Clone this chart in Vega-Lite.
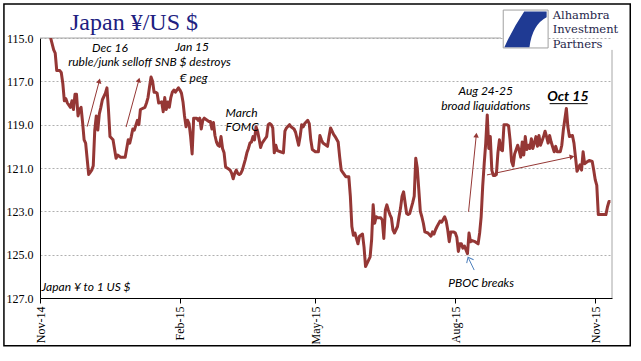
{
  "$schema": "https://vega.github.io/schema/vega-lite/v6.json",
  "width": 572,
  "height": 260,
  "autosize": "none",
  "padding": {"left": 40, "top": 38, "right": 29, "bottom": 63},
  "background": "white",
  "config": {
    "view": {"stroke": null},
    "axis": {"titleFontSize": 0, "domainColor": "black", "labelColor": "black"}
  },
  "datasets": {
    "fx": [
      {"date":"2014-11-08","value":115.0},{"date":"2014-11-10","value":115.55},{"date":"2014-11-11","value":115.7},{"date":"2014-11-12","value":116.5},{"date":"2014-11-14","value":116.5},{"date":"2014-11-15","value":116.6},{"date":"2014-11-16","value":117.1},{"date":"2014-11-17","value":117.9},{"date":"2014-11-18","value":117.8},{"date":"2014-11-19","value":118.0},{"date":"2014-11-21","value":118.2},{"date":"2014-11-22","value":117.9},{"date":"2014-11-23","value":118.3},{"date":"2014-11-24","value":117.6},{"date":"2014-11-25","value":117.6},{"date":"2014-11-26","value":118.6},{"date":"2014-11-27","value":118.3},{"date":"2014-11-28","value":118.2},{"date":"2014-11-29","value":118.9},{"date":"2014-11-30","value":119.7},
      {"date":"2014-12-01","value":119.85},{"date":"2014-12-03","value":121.3},{"date":"2014-12-04","value":121.2},{"date":"2014-12-05","value":121.1},{"date":"2014-12-06","value":120.9},{"date":"2014-12-07","value":119.25},{"date":"2014-12-08","value":118.6},{"date":"2014-12-09","value":119.25},{"date":"2014-12-10","value":118.5},{"date":"2014-12-11","value":118.2},{"date":"2014-12-12","value":117.85},{"date":"2014-12-14","value":117.55},{"date":"2014-12-15","value":117.3},{"date":"2014-12-16","value":118.3},{"date":"2014-12-17","value":119.55},{"date":"2014-12-19","value":119.7},{"date":"2014-12-21","value":120.55},{"date":"2014-12-22","value":120.4},{"date":"2014-12-24","value":120.5},{"date":"2014-12-27","value":120.5},{"date":"2014-12-28","value":120.1},{"date":"2014-12-29","value":119.7},{"date":"2014-12-30","value":119.85},{"date":"2014-12-31","value":119.55},
      {"date":"2015-01-01","value":119.2},{"date":"2015-01-02","value":119.25},{"date":"2015-01-04","value":118.8},{"date":"2015-01-05","value":119.0},{"date":"2015-01-06","value":118.3},{"date":"2015-01-09","value":118.2},{"date":"2015-01-10","value":118.0},{"date":"2015-01-11","value":117.75},{"date":"2015-01-12","value":117.25},{"date":"2015-01-13","value":116.8},{"date":"2015-01-14","value":117.0},{"date":"2015-01-15","value":117.5},{"date":"2015-01-16","value":117.5},{"date":"2015-01-17","value":117.55},{"date":"2015-01-18","value":118.0},{"date":"2015-01-20","value":117.95},{"date":"2015-01-21","value":118.4},{"date":"2015-01-22","value":117.75},{"date":"2015-01-23","value":118.3},{"date":"2015-01-24","value":117.95},{"date":"2015-01-25","value":118.2},{"date":"2015-01-26","value":117.75},{"date":"2015-01-27","value":117.5},{"date":"2015-01-28","value":117.4},{"date":"2015-01-29","value":117.5},{"date":"2015-01-31","value":117.3},
      {"date":"2015-02-01","value":117.4},{"date":"2015-02-02","value":117.55},{"date":"2015-02-03","value":117.95},{"date":"2015-02-04","value":118.6},{"date":"2015-02-05","value":119.1},{"date":"2015-02-06","value":118.8},{"date":"2015-02-07","value":118.95},{"date":"2015-02-08","value":119.55},{"date":"2015-02-09","value":120.35},{"date":"2015-02-10","value":118.7},{"date":"2015-02-12","value":118.7},{"date":"2015-02-13","value":118.8},{"date":"2015-02-14","value":118.7},{"date":"2015-02-15","value":119.2},{"date":"2015-02-16","value":118.8},{"date":"2015-02-17","value":118.7},{"date":"2015-02-20","value":118.85},{"date":"2015-02-21","value":118.85},{"date":"2015-02-22","value":119.2},{"date":"2015-02-23","value":118.9},{"date":"2015-02-24","value":119.5},{"date":"2015-02-25","value":119.8},{"date":"2015-02-26","value":119.95},{"date":"2015-02-27","value":120.0},{"date":"2015-02-28","value":119.55},
      {"date":"2015-03-01","value":120.1},{"date":"2015-03-02","value":120.3},{"date":"2015-03-03","value":120.95},{"date":"2015-03-05","value":121.05},{"date":"2015-03-06","value":121.1},{"date":"2015-03-07","value":121.25},{"date":"2015-03-08","value":121.5},{"date":"2015-03-09","value":121.25},{"date":"2015-03-10","value":121.1},{"date":"2015-03-11","value":121.25},{"date":"2015-03-12","value":121.3},{"date":"2015-03-13","value":121.25},{"date":"2015-03-14","value":121.1},{"date":"2015-03-16","value":120.6},{"date":"2015-03-17","value":120.3},{"date":"2015-03-18","value":120.1},{"date":"2015-03-19","value":119.85},{"date":"2015-03-20","value":119.8},{"date":"2015-03-21","value":119.55},{"date":"2015-03-22","value":119.7},{"date":"2015-03-23","value":119.1},{"date":"2015-03-24","value":119.3},{"date":"2015-03-25","value":119.65},{"date":"2015-03-26","value":120.05},{"date":"2015-03-27","value":119.85},{"date":"2015-03-29","value":119.65},{"date":"2015-03-30","value":119.55},{"date":"2015-03-31","value":119.0},
      {"date":"2015-04-01","value":118.95},{"date":"2015-04-02","value":119.0},{"date":"2015-04-03","value":119.15},{"date":"2015-04-04","value":120.3},{"date":"2015-04-05","value":119.95},{"date":"2015-04-06","value":120.2},{"date":"2015-04-08","value":120.25},{"date":"2015-04-10","value":120.3},{"date":"2015-04-11","value":119.3},{"date":"2015-04-12","value":119.15},{"date":"2015-04-14","value":119.0},{"date":"2015-04-15","value":119.1},{"date":"2015-04-17","value":119.2},{"date":"2015-04-18","value":119.35},{"date":"2015-04-19","value":119.65},{"date":"2015-04-20","value":119.95},{"date":"2015-04-21","value":119.55},{"date":"2015-04-22","value":119.0},{"date":"2015-04-23","value":119.1},{"date":"2015-04-24","value":118.95},{"date":"2015-04-26","value":118.8},{"date":"2015-04-27","value":118.95},{"date":"2015-04-28","value":119.7},{"date":"2015-04-29","value":120.15},
      {"date":"2015-05-01","value":120.25},{"date":"2015-05-03","value":120.25},{"date":"2015-05-04","value":119.5},{"date":"2015-05-05","value":119.7},{"date":"2015-05-06","value":119.85},{"date":"2015-05-09","value":120.0},{"date":"2015-05-10","value":119.55},{"date":"2015-05-11","value":119.15},{"date":"2015-05-12","value":119.3},{"date":"2015-05-13","value":119.45},{"date":"2015-05-14","value":119.55},{"date":"2015-05-16","value":119.8},{"date":"2015-05-17","value":120.5},{"date":"2015-05-18","value":121.1},{"date":"2015-05-19","value":121.2},{"date":"2015-05-21","value":121.4},{"date":"2015-05-23","value":121.4},{"date":"2015-05-24","value":122.3},{"date":"2015-05-25","value":123.7},{"date":"2015-05-26","value":124.1},{"date":"2015-05-27","value":124.0},{"date":"2015-05-28","value":124.25},{"date":"2015-05-29","value":124.5},{"date":"2015-05-30","value":124.15},
      {"date":"2015-06-01","value":124.05},{"date":"2015-06-02","value":124.65},{"date":"2015-06-03","value":125.55},{"date":"2015-06-04","value":125.4},{"date":"2015-06-05","value":125.25},{"date":"2015-06-06","value":125.1},{"date":"2015-06-07","value":124.3},{"date":"2015-06-08","value":122.7},{"date":"2015-06-09","value":123.55},{"date":"2015-06-10","value":123.25},{"date":"2015-06-11","value":123.3},{"date":"2015-06-13","value":123.3},{"date":"2015-06-14","value":123.4},{"date":"2015-06-15","value":124.25},{"date":"2015-06-16","value":122.95},{"date":"2015-06-17","value":122.7},{"date":"2015-06-18","value":122.95},{"date":"2015-06-19","value":123.15},{"date":"2015-06-20","value":123.3},{"date":"2015-06-21","value":123.85},{"date":"2015-06-22","value":124.0},{"date":"2015-06-24","value":123.7},{"date":"2015-06-25","value":123.25},{"date":"2015-06-26","value":122.85},{"date":"2015-06-27","value":122.3},{"date":"2015-06-28","value":122.1},{"date":"2015-06-29","value":122.6},{"date":"2015-06-30","value":123.1},
      {"date":"2015-07-01","value":123.15},{"date":"2015-07-02","value":123.1},{"date":"2015-07-03","value":122.85},{"date":"2015-07-04","value":122.6},{"date":"2015-07-05","value":122.3},{"date":"2015-07-06","value":120.55},{"date":"2015-07-07","value":121.0},{"date":"2015-07-08","value":122.0},{"date":"2015-07-09","value":123.0},{"date":"2015-07-10","value":123.25},{"date":"2015-07-11","value":123.55},{"date":"2015-07-12","value":123.95},{"date":"2015-07-14","value":124.0},{"date":"2015-07-16","value":124.15},{"date":"2015-07-17","value":123.95},{"date":"2015-07-18","value":124.05},{"date":"2015-07-19","value":123.85},{"date":"2015-07-20","value":123.7},{"date":"2015-07-22","value":123.45},{"date":"2015-07-23","value":123.5},{"date":"2015-07-25","value":123.25},{"date":"2015-07-26","value":123.45},{"date":"2015-07-27","value":123.85},{"date":"2015-07-28","value":124.4},{"date":"2015-07-29","value":123.95},{"date":"2015-07-31","value":123.95},
      {"date":"2015-08-01","value":124.0},{"date":"2015-08-02","value":124.2},{"date":"2015-08-03","value":124.85},{"date":"2015-08-04","value":124.5},{"date":"2015-08-05","value":124.5},{"date":"2015-08-06","value":124.7},{"date":"2015-08-07","value":124.6},{"date":"2015-08-09","value":124.95},{"date":"2015-08-10","value":124.0},{"date":"2015-08-11","value":124.4},{"date":"2015-08-12","value":124.35},{"date":"2015-08-14","value":124.4},{"date":"2015-08-16","value":124.5},{"date":"2015-08-17","value":124.0},{"date":"2015-08-18","value":123.25},{"date":"2015-08-19","value":121.85},{"date":"2015-08-20","value":120.8},{"date":"2015-08-21","value":119.85},{"date":"2015-08-22","value":118.55},{"date":"2015-08-23","value":120.1},{"date":"2015-08-24","value":119.55},{"date":"2015-08-25","value":121.1},{"date":"2015-08-26","value":121.35},{"date":"2015-08-27","value":121.35},{"date":"2015-08-28","value":121.3},{"date":"2015-08-29","value":120.3},{"date":"2015-08-30","value":119.7},{"date":"2015-08-31","value":120.15},
      {"date":"2015-09-01","value":120.2},{"date":"2015-09-02","value":119.0},{"date":"2015-09-04","value":119.0},{"date":"2015-09-05","value":119.05},{"date":"2015-09-06","value":119.7},{"date":"2015-09-07","value":120.7},{"date":"2015-09-08","value":120.9},{"date":"2015-09-09","value":120.35},{"date":"2015-09-11","value":119.95},{"date":"2015-09-12","value":120.2},{"date":"2015-09-13","value":120.5},{"date":"2015-09-14","value":119.8},{"date":"2015-09-15","value":120.4},{"date":"2015-09-16","value":119.55},{"date":"2015-09-17","value":120.15},{"date":"2015-09-18","value":119.95},{"date":"2015-09-19","value":120.1},{"date":"2015-09-20","value":119.65},{"date":"2015-09-21","value":120.1},{"date":"2015-09-23","value":119.55},{"date":"2015-09-24","value":120.0},{"date":"2015-09-25","value":119.5},{"date":"2015-09-26","value":119.95},{"date":"2015-09-27","value":119.75},{"date":"2015-09-28","value":119.55},{"date":"2015-09-29","value":119.3},{"date":"2015-09-30","value":119.55},
      {"date":"2015-10-01","value":119.85},{"date":"2015-10-02","value":119.5},{"date":"2015-10-03","value":119.8},{"date":"2015-10-05","value":120.25},{"date":"2015-10-06","value":120.0},{"date":"2015-10-07","value":120.25},{"date":"2015-10-09","value":120.25},{"date":"2015-10-10","value":119.95},{"date":"2015-10-11","value":119.25},{"date":"2015-10-13","value":118.25},{"date":"2015-10-14","value":119.1},{"date":"2015-10-15","value":119.55},{"date":"2015-10-17","value":119.5},{"date":"2015-10-18","value":119.85},{"date":"2015-10-19","value":120.5},{"date":"2015-10-20","value":121.15},{"date":"2015-10-21","value":121.0},{"date":"2015-10-22","value":120.85},{"date":"2015-10-23","value":121.1},{"date":"2015-10-24","value":120.25},{"date":"2015-10-25","value":120.8},{"date":"2015-10-26","value":120.75},{"date":"2015-10-28","value":120.65},{"date":"2015-10-30","value":120.7},{"date":"2015-10-31","value":121.1},
      {"date":"2015-11-01","value":121.55},{"date":"2015-11-02","value":121.8},{"date":"2015-11-03","value":123.15},{"date":"2015-11-04","value":123.15},{"date":"2015-11-08","value":123.15},{"date":"2015-11-09","value":122.8},{"date":"2015-11-10","value":122.55},{"date":"2015-11-11","value":122.55}
    ],
    "frame": [
      {"date":"2014-11-01","value":115,"date2":"2015-08-31","value2":115},
      {"date":"2015-11-12","value":115.55,"date2":"2015-11-12","value2":127}
    ],
    "outerFrame": [{"date":"2014-10-08T07:00:00Z","value":113.43,"date2":"2015-11-24","value2":129.2}],
    "titleText": [{"date":"2014-11-20T17:00:00Z","value":114.63,"label":"Japan ¥/US $"}],
    "notesCenter": [
      {"date":"2014-12-17","value":115.46,"label":"Dec 16"},
      {"date":"2014-12-17","value":116.11,"label":"ruble/junk selloff"},
      {"date":"2015-02-09","value":115.42,"label":"Jan 15"},
      {"date":"2015-02-09T12:00:00Z","value":116.11,"label":"SNB $ destroys"},
      {"date":"2015-02-10","value":116.85,"label":"€ peg"},
      {"date":"2015-08-21","value":117.45,"label":"Aug 24-25"},
      {"date":"2015-08-21","value":118.14,"label":"broad liquidations"},
      {"date":"2015-08-18","value":126.31,"label":"PBOC breaks"}
    ],
    "notesLeft": [
      {"date":"2015-03-03","value":118.46,"label":"March"},
      {"date":"2015-03-03","value":119.11,"label":"FOMC"},
      {"date":"2014-11-02","value":126.49,"label":"Japan ¥ to 1 US $"}
    ],
    "oct": [{"date":"2015-10-14","value":117.72,"label":"Oct 15"}],
    "octLine": [{"date":"2015-10-02","value":118.03,"date2":"2015-10-27","value2":118.03}],
    "arrows": [
      {"date":"2014-12-02","value":119.09,"date2":"2014-12-10","value2":116.98},
      {"date":"2014-12-27T14:00:00Z","value":119.11,"date2":"2015-01-05","value2":116.94},
      {"date":"2015-08-09T17:00:00Z","value":123.02,"date2":"2015-08-14T19:00:00Z","value2":119.48},
      {"date":"2015-08-21T19:00:00Z","value":121.32,"date2":"2015-10-16T17:00:00Z","value2":120.48}
    ],
    "headsA": [
      {"date":"2014-12-10","value":116.98},
      {"date":"2015-01-05","value":116.94}
    ],
    "headsB": [{"date":"2015-08-14T19:00:00Z","value":119.48}],
    "headsC": [{"date":"2015-10-16T17:00:00Z","value":120.48}],
    "blueArrow": [{"date":"2015-08-13T10:00:00Z","value":125.71,"date2":"2015-08-09T17:00:00Z","value2":125.17}],
    "blueHead": [{"date":"2015-08-09T17:00:00Z","value":125.17}],
    "logoBox": [{"date":"2015-09-01T12:00:00Z","value":113.71,"date2":"2015-10-01","value2":115.46}],
    "logoMark": [{"date":"2015-09-16T07:00:00Z","value":114.58}],
    "logoText": [
      {"date":"2015-10-04","value":114.0,"label":"Alhambra"},
      {"date":"2015-10-04","value":114.65,"label":"Investment"},
      {"date":"2015-10-04","value":115.3,"label":"Partners"}
    ]
  },
  "encoding": {
    "x": {"field": "date", "type": "temporal", "scale": {"domain": ["2014-11-01", "2015-11-12"]},
      "axis": {"values": ["2014-11-01", "2015-02-01", "2015-05-01", "2015-08-01", "2015-11-01"], "format": "%b-%y", "labelAngle": 270, "labelFont": "Liberation Serif", "labelFontSize": 12, "tickColor": "black", "tickSize": 5, "labelPadding": 3, "grid": false, "title": null}},
    "y": {"field": "value", "type": "quantitative", "scale": {"domain": [115, 127], "reverse": true, "nice": false, "zero": false},
      "axis": {"values": [115, 117, 119, 121, 123, 125, 127], "format": ".1f", "labelFont": "Liberation Serif", "labelFontSize": 12, "tickSize": 0, "labelPadding": 7, "grid": true, "gridDash": [2, 2], "gridColor": "#b0b0b0", "title": null}}
  },
  "layer": [
    {"data": {"name": "outerFrame"}, "mark": {"type": "rect", "fill": null, "filled": false, "stroke": "black", "strokeWidth": 1.5},
     "encoding": {"x2": {"field": "date2"}, "y2": {"field": "value2"}}},
    {"data": {"name": "frame"}, "mark": {"type": "rule", "color": "#a6a6a6", "strokeWidth": 1},
     "encoding": {"x2": {"field": "date2"}, "y2": {"field": "value2"}}},
    {"data": {"name": "fx"}, "mark": {"type": "line", "color": "#953735", "strokeWidth": 3, "clip": true, "strokeJoin": "round"}},
    {"data": {"name": "arrows"}, "mark": {"type": "rule", "color": "#953735", "strokeWidth": 1},
     "encoding": {"x2": {"field": "date2"}, "y2": {"field": "value2"}}},
    {"data": {"name": "headsA"}, "mark": {"type": "point", "shape": "triangle-up", "filled": true, "color": "#953735", "size": 30, "angle": 15, "opacity": 1}},
    {"data": {"name": "headsB"}, "mark": {"type": "point", "shape": "triangle-up", "filled": true, "color": "#953735", "size": 30, "angle": 6, "opacity": 1}},
    {"data": {"name": "headsC"}, "mark": {"type": "point", "shape": "triangle-up", "filled": true, "color": "#953735", "size": 30, "angle": 78, "opacity": 1}},
    {"data": {"name": "blueArrow"}, "mark": {"type": "rule", "color": "#4f81bd", "strokeWidth": 1},
     "encoding": {"x2": {"field": "date2"}, "y2": {"field": "value2"}}},
    {"data": {"name": "blueHead"}, "mark": {"type": "point", "shape": "M -1 0.9 L 0 -0.3 L 1 0.9", "filled": false, "color": "#4f81bd", "strokeWidth": 1, "size": 60, "angle": -27, "opacity": 1}},
    {"data": {"name": "titleText"}, "mark": {"type": "text", "font": "Liberation Serif", "fontSize": 24, "align": "left", "baseline": "alphabetic", "color": "#202080"},
     "encoding": {"text": {"field": "label"}}},
    {"data": {"name": "notesCenter"}, "mark": {"type": "text", "font": "Lato", "fontStyle": "italic", "fontSize": 12, "align": "center", "baseline": "middle", "color": "black"},
     "encoding": {"text": {"field": "label"}}},
    {"data": {"name": "notesLeft"}, "mark": {"type": "text", "font": "Lato", "fontStyle": "italic", "fontSize": 12, "align": "left", "baseline": "middle", "color": "black"},
     "encoding": {"text": {"field": "label"}}},
    {"data": {"name": "oct"}, "mark": {"type": "text", "font": "Lato", "fontStyle": "italic", "fontWeight": "bold", "fontSize": 14, "align": "center", "baseline": "middle", "color": "black"},
     "encoding": {"text": {"field": "label"}}},
    {"data": {"name": "octLine"}, "mark": {"type": "rule", "color": "black", "strokeWidth": 1},
     "encoding": {"x2": {"field": "date2"}, "y2": {"field": "value2"}}},
    {"data": {"name": "logoBox"}, "mark": {"type": "rect", "fill": "white", "stroke": "#a0a0a0", "strokeWidth": 1},
     "encoding": {"x2": {"field": "date2"}, "y2": {"field": "value2"}}},
    {"data": {"name": "logoMark"}, "mark": {"type": "point", "shape": "M -0.07 -0.79 L 0.95 -0.79 L 0.95 -0.53 Q 0.3 -0.2 0.17 0.83 L -0.97 0.83 Q -0.6 0 -0.07 -0.79 Z", "filled": true, "color": "#1f3a93", "size": 1936, "opacity": 1}},
    {"data": {"name": "logoText"}, "mark": {"type": "text", "font": "DejaVu Serif", "fontSize": 11.5, "align": "left", "baseline": "middle", "color": "#26264a"},
     "encoding": {"text": {"field": "label"}}}
  ]
}
